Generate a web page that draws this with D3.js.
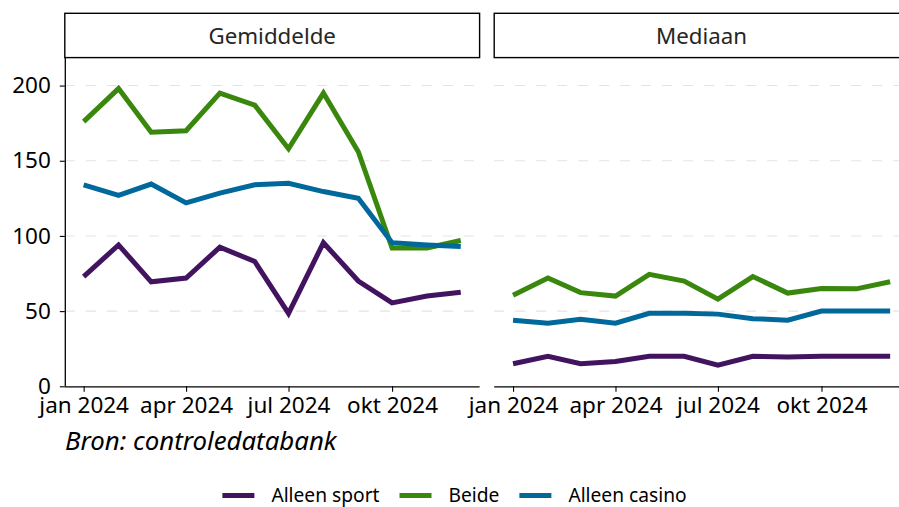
<!DOCTYPE html>
<html>
<head>
<meta charset="utf-8">
<script src="https://cdn.jsdelivr.net/npm/d3@7"></script>
<style>
  html, body { margin: 0; padding: 0; background: #fff; }
  svg { display: block; font-family: "Noto Sans", sans-serif; }
</style>
</head>
<body>
<svg id="chart" width="899" height="507"></svg>
<script>
// ---- data ----
const months = ["2024-01-01","2024-02-01","2024-03-01","2024-04-01","2024-05-01","2024-06-01",
                "2024-07-01","2024-08-01","2024-09-01","2024-10-01","2024-11-01","2024-12-01"];
const panels = ["Gemiddelde", "Mediaan"];
const seriesNames = ["Alleen sport", "Beide", "Alleen casino"];
const seriesColors = ["#42145f", "#39870c", "#01689b"];

const gemAlleenSport  = [73, 94, 69.5, 72, 92.5, 83, 48.5, 95.5, 70, 55.5, 60, 62.5];
const gemBeide        = [176, 198, 169, 170, 195, 187, 158, 195, 156, 92, 92, 97];
const gemAlleenCasino = [134, 127, 134.5, 122, 128.5, 134, 135, 129.5, 125, 95.5, 94, 93];

const medAlleenSport  = [15, 20, 15, 16.5, 20, 20, 14, 20, 19.5, 20, 20, 20];
const medBeide        = [60.5, 72, 62.3, 60, 74.5, 70, 58, 73, 62, 65, 64.8, 69.5];
const medAlleenCasino = [44, 42, 44.5, 42, 48.5, 48.5, 48, 45, 44, 50, 50, 50];

const yTicks = [0, 50, 100, 150, 200];
const xTickDates = ["2024-01-01","2024-04-01","2024-07-01","2024-10-01","2025-01-01"];
const xTickLabels = ["jan 2024","apr 2024","jul 2024","okt 2024","jan 2025"];
const sourceText = "Bron: controledatabank";

const panelData = [
  [gemAlleenSport, gemBeide, gemAlleenCasino],
  [medAlleenSport, medBeide, medAlleenCasino]
];

// ---- layout ----
const svg = d3.select("#chart");
const parse = d3.utcParse("%Y-%m-%d");
const dates = months.map(parse);
const panelW = 414.8;
const panelX0 = [64.8, 494.2];
const stripTop = 13.3, stripBottom = 57.6;
const plotTop = 57.6, plotBottom = 386.3;
const tickFont = 22.5;

const t0 = dates[0].getTime(), t1 = dates[dates.length - 1].getTime();
const pad = (t1 - t0) * 0.05;

const y = d3.scaleLinear().domain([0, 218.6]).range([plotBottom, plotTop]);

panels.forEach((pname, pi) => {
  const x0 = panelX0[pi];
  const x = d3.scaleUtc().domain([new Date(t0 - pad), new Date(t1 + pad)]).range([x0, x0 + panelW]);
  const g = svg.append("g");

  // gridlines
  g.append("g").selectAll("line").data(yTicks.filter(d => d > 0)).join("line")
    .attr("x1", x0).attr("x2", x0 + panelW)
    .attr("y1", d => y(d)).attr("y2", d => y(d))
    .attr("stroke", "#e3e3e3").attr("stroke-width", 1.1)
    .attr("stroke-dasharray", "10,11");

  // strip
  g.append("rect").attr("x", x0).attr("y", stripTop).attr("width", panelW).attr("height", stripBottom - stripTop)
    .attr("fill", "#fff").attr("stroke", "#000").attr("stroke-width", 1.4);
  g.append("text").attr("x", x0 + panelW / 2).attr("y", 44)
    .attr("text-anchor", "middle").attr("font-size", 22.3).attr("fill", "#262626").text(pname);

  // x axis
  const xTickVals = xTickDates.map(parse).filter(d => d >= x.domain()[0] && d <= x.domain()[1]);
  const xAxis = d3.axisBottom(x).tickValues(xTickVals).tickSize(5.5).tickPadding(4)
    .tickFormat(d => xTickLabels[xTickDates.indexOf(d3.utcFormat("%Y-%m-%d")(d))]);
  const ax = g.append("g").attr("transform", `translate(0,${plotBottom})`).call(xAxis);
  ax.select(".domain").attr("d", `M${x0},0.5H${x0 + panelW}`).attr("stroke", "#000").attr("stroke-width", 1.3);
  ax.selectAll(".tick line").attr("stroke", "#000").attr("stroke-width", 1.1);
  ax.selectAll(".tick text").attr("font-family", "Noto Sans").attr("font-size", tickFont).attr("fill", "#000")
    .attr("dy", "0.76em");

  // y axis on first panel only
  if (pi === 0) {
    const yAxis = d3.axisLeft(y).tickValues(yTicks).tickSize(5).tickPadding(9);
    const ay = g.append("g").attr("transform", `translate(${x0},0)`).call(yAxis);
    ay.select(".domain").attr("d", `M0.5,${plotTop}V${plotBottom}`).attr("stroke", "#000").attr("stroke-width", 1.3);
    ay.selectAll(".tick line").attr("stroke", "#000").attr("stroke-width", 1.1);
    ay.selectAll(".tick text").attr("font-family", "Noto Sans").attr("font-size", tickFont).attr("fill", "#000");
  }

  // lines
  const line = d3.line().x((d, i) => x(dates[i])).y(d => y(d));
  panelData[pi].forEach((vals, si) => {
    g.append("path").datum(vals).attr("d", line)
      .attr("fill", "none").attr("stroke", seriesColors[si]).attr("stroke-width", 5)
      .attr("stroke-linejoin", "miter").attr("stroke-linecap", "butt");
  });
});

// source caption
svg.append("text").attr("x", 65).attr("y", 450).attr("font-size", 25.8).attr("font-style", "italic")
  .attr("fill", "#000").text(sourceText);

// legend
const leg = svg.append("g");
const keyW = 32, keyGap = 17, itemGap = 20, legY = 495.5;
let cx = 0;
const items = [];
seriesNames.forEach((name, i) => {
  const it = leg.append("g");
  it.append("line").attr("x1", 0).attr("x2", keyW).attr("y1", 0).attr("y2", 0)
    .attr("stroke", seriesColors[i]).attr("stroke-width", 5);
  const t = it.append("text").attr("x", keyW + keyGap).attr("y", 0).attr("dy", "0.35em")
    .attr("font-size", 19.2).attr("fill", "#000").text(name);
  const w = keyW + keyGap + t.node().getComputedTextLength();
  items.push({ it, w });
});
const totalW = d3.sum(items, d => d.w) + itemGap * (items.length - 1);
cx = 454.5 - totalW / 2;
items.forEach(d => { d.it.attr("transform", `translate(${cx},${legY})`); cx += d.w + itemGap; });
</script>
</body>
</html>
